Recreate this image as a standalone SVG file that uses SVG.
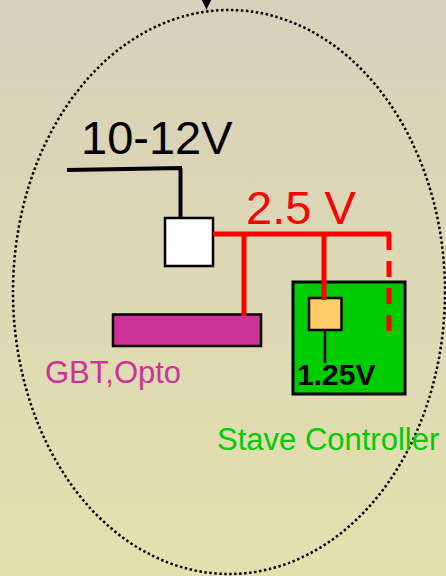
<svg xmlns="http://www.w3.org/2000/svg" width="446" height="576" viewBox="0 0 446 576">
<defs>
<linearGradient id="bg" x1="0" y1="0" x2="0" y2="1">
<stop offset="0" stop-color="#d7d1bb"/>
<stop offset="1" stop-color="#e4e0ae"/>
</linearGradient>
<marker id="arr" viewBox="0 0 10 10" refX="10" refY="5" markerWidth="10" markerHeight="10" markerUnits="userSpaceOnUse" orient="auto">
<path d="M0,0 L10,5 L0,10 Z" fill="#000"/>
</marker>
<style>
text{font-family:"Liberation Sans",Arial,sans-serif}
.blk{stroke:#000;stroke-width:4;fill:none}
.red{stroke:#ff0000;stroke-width:5;fill:none}
.box{stroke:#000;stroke-width:2.5}
</style>
</defs>
<rect x="0" y="0" width="446" height="576" fill="url(#bg)"/>
<ellipse id="boundary" cx="229" cy="292" rx="216" ry="282" fill="none" stroke="#000" stroke-width="2.5" stroke-dasharray="2.5 2.5"/>
<g id="input-label"><text x="81" y="154" font-size="47" fill="#000">10-12V</text></g>
<g id="rail-label"><text x="246" y="224" font-size="47" fill="#ff0000">2.5 V</text></g>
<g id="regulator"><rect class="box" x="165" y="218" width="48" height="48" fill="#ffffff"/></g>
<g id="gbt-opto">
<rect class="box" x="113" y="314.5" width="148" height="31.5" fill="#cc3399"/>
<text x="45" y="382.5" font-size="31" fill="#cc3399">GBT,Opto</text>
</g>
<g id="stave-controller">
<rect x="293" y="282" width="112" height="112" fill="#00cc00" stroke="#000" stroke-width="3"/>
<text x="217" y="450" font-size="31" fill="#00cc00">Stave Controller</text>
</g>
<g id="ldo">
<rect class="box" x="309" y="298" width="32.5" height="32" fill="#ffcc66"/>
<text x="297" y="385" font-size="30" font-weight="bold" fill="#000">1.25V</text>
</g>
<g id="connectors">
<path d="M206.5,-10 L206.5,9.5" stroke="#000" stroke-width="1" marker-end="url(#arr)"/>
<path class="blk" d="M67,170 L182,168 M180.5,168 L180.5,219"/>
<path class="red" d="M213,234 L391,234 M244,234 L244,316 M324,234 L324,300"/>
<path class="red" d="M389,234 L389,332" stroke-dasharray="16 11"/>
<path d="M325,331 L325,363" stroke="#000" stroke-width="2.5"/>
</g>
</svg>
